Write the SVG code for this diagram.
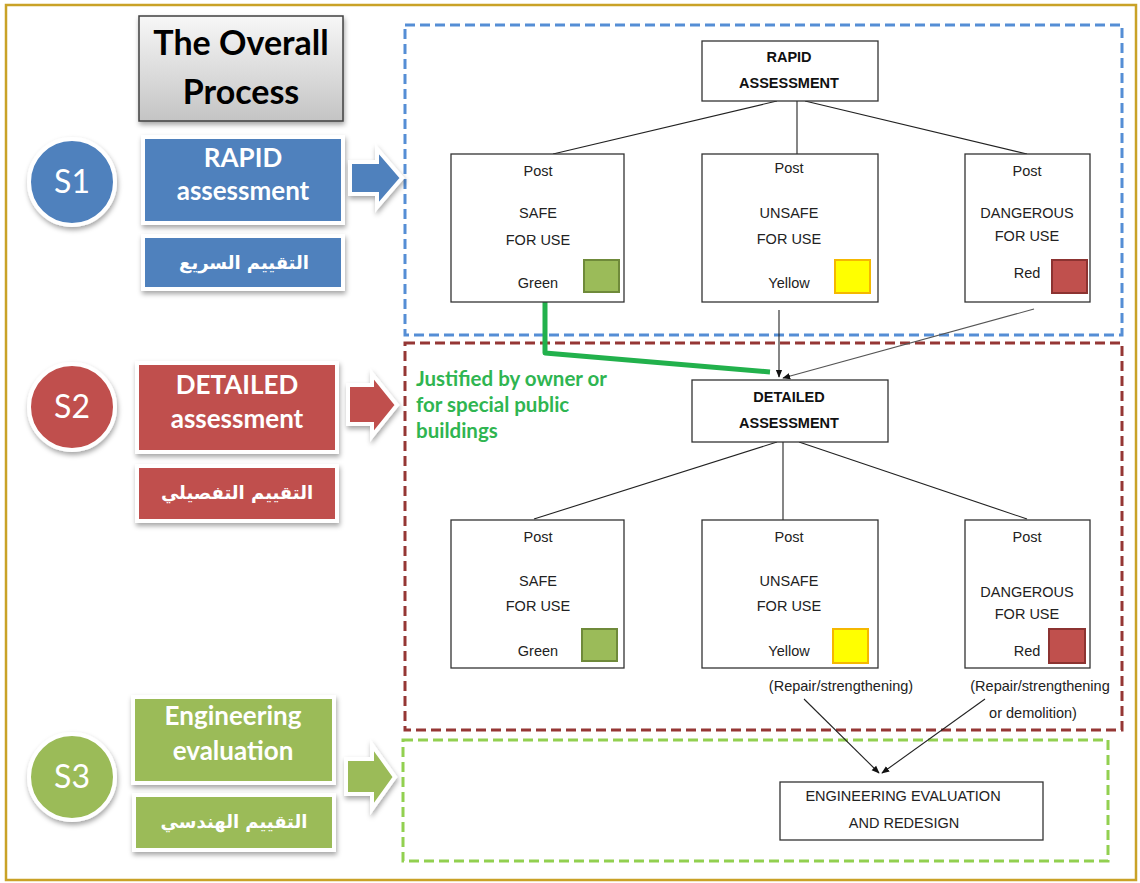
<svg xmlns="http://www.w3.org/2000/svg" width="1140" height="883" viewBox="0 0 1140 883">
<defs>
  <linearGradient id="gTitle" x1="0" y1="0" x2="0" y2="1">
    <stop offset="0" stop-color="#f7f7f7"/>
    <stop offset="1" stop-color="#c4c4c4"/>
  </linearGradient>
  <filter id="sh" x="-20%" y="-20%" width="140%" height="150%">
    <feDropShadow dx="1" dy="3" stdDeviation="2.5" flood-color="#000" flood-opacity="0.35"/>
  </filter>
  <marker id="ah" viewBox="0 0 10 10" refX="9" refY="5" markerWidth="8" markerHeight="8" markerUnits="userSpaceOnUse" orient="auto">
    <path d="M0,1 L10,5 L0,9 z" fill="#111"/>
  </marker>
  <style>
    .lbl{font-family:Lato,"Open Sans","Liberation Sans",sans-serif;font-weight:bold;fill:#fff;text-anchor:middle;font-size:26px}
    .ttl{font-family:Lato,"Open Sans","Liberation Sans",sans-serif;font-weight:bold;fill:#000;text-anchor:middle;font-size:34px}
    .ar{font-family:"DejaVu Sans",sans-serif;font-weight:bold;fill:#fff;text-anchor:middle;font-size:18px}
    .circ{font-family:Lato,"Open Sans","Liberation Sans",sans-serif;fill:#fff;text-anchor:middle;font-size:32px}
    .note{font-family:Lato,"Open Sans",sans-serif;font-weight:bold;font-size:20.5px;fill:#2fb551}
    .box{fill:#fff;stroke:#333;stroke-width:1.3}
    .t{font-family:"Liberation Sans",Arial,sans-serif;font-size:14.5px;fill:#222;text-anchor:middle}
    .tb{font-family:"Liberation Sans",Arial,sans-serif;font-size:14.5px;font-weight:bold;fill:#111;text-anchor:middle}
    .ln{stroke:#222;stroke-width:1.1;fill:none}
    .frame{stroke:#fff;stroke-width:4}
  </style>
</defs>
<rect x="0" y="0" width="1140" height="883" fill="#fff"/>
<rect x="6" y="5" width="1130" height="875" fill="#fff" stroke="#c9a227" stroke-width="2.5"/>

<!-- dashed stage frames -->
<rect x="405" y="25" width="717" height="310" fill="none" stroke="#558ed5" stroke-width="3" stroke-dasharray="10,5"/>
<rect x="405" y="343" width="717" height="387" fill="none" stroke="#953735" stroke-width="3" stroke-dasharray="10,5"/>
<rect x="403" y="740" width="705" height="121" fill="none" stroke="#92d050" stroke-width="3" stroke-dasharray="10,5"/>

<!-- title -->
<g id="title">
  <rect x="139" y="16" width="204" height="105" fill="url(#gTitle)" stroke="#404040" stroke-width="1.5" filter="url(#sh)"/>
  <text x="241" y="55" class="ttl">The Overall</text>
  <text x="241" y="104" class="ttl">Process</text>
</g>

<!-- S1 -->
<g id="s1">
  <circle cx="72" cy="182" r="43" fill="#4f81bd" class="frame" filter="url(#sh)"/>
  <text x="72" y="193" class="circ">S1</text>
</g>
<g id="s1-label">
  <rect x="143" y="137" width="200" height="86" fill="#4f81bd" class="frame" filter="url(#sh)"/>
  <text x="243" y="167" class="lbl">RAPID</text>
  <text x="243" y="200" class="lbl">assessment</text>
</g>
<g id="s1-ar">
  <rect x="143" y="236" width="200" height="53" fill="#4f81bd" class="frame" filter="url(#sh)"/>
  <text x="244" y="269" class="ar">التقييم السريع</text>
</g>
<g id="s1-arrow">
  <path d="M350,162 L377,162 L377,149 L402,178 L377,207 L377,194 L350,194 z" fill="#4f81bd" class="frame" filter="url(#sh)"/>
</g>

<!-- S2 -->
<g id="s2">
  <circle cx="72" cy="407" r="43" fill="#c0504d" class="frame" filter="url(#sh)"/>
  <text x="72" y="418" class="circ">S2</text>
</g>
<g id="s2-label">
  <rect x="137" y="363" width="200" height="89" fill="#c0504d" class="frame" filter="url(#sh)"/>
  <text x="237" y="394" class="lbl">DETAILED</text>
  <text x="237" y="428" class="lbl">assessment</text>
</g>
<g id="s2-ar">
  <rect x="137" y="466" width="200" height="55" fill="#c0504d" class="frame" filter="url(#sh)"/>
  <text x="237" y="499" class="ar">التقييم التفصيلي</text>
</g>
<g id="s2-arrow">
  <path d="M348,385 L372,385 L372,374 L397,405 L372,436 L372,424 L348,424 z" fill="#c0504d" class="frame" filter="url(#sh)"/>
</g>

<!-- S3 -->
<g id="s3">
  <circle cx="72" cy="777" r="43" fill="#9bbb59" class="frame" filter="url(#sh)"/>
  <text x="72" y="788" class="circ">S3</text>
</g>
<g id="s3-label">
  <rect x="133" y="697" width="201" height="86" fill="#9bbb59" class="frame" filter="url(#sh)"/>
  <text x="233" y="725" class="lbl">Engineering</text>
  <text x="233" y="760" class="lbl">evaluation</text>
</g>
<g id="s3-ar">
  <rect x="134" y="795" width="200" height="55" fill="#9bbb59" class="frame" filter="url(#sh)"/>
  <text x="234" y="828" class="ar">التقييم الهندسي</text>
</g>
<g id="s3-arrow">
  <path d="M346,759 L372,759 L372,745 L395,777 L372,809 L372,794 L346,794 z" fill="#9bbb59" class="frame" filter="url(#sh)"/>
</g>

<!-- connectors -->
<g id="connectors">
  <line class="ln" x1="777" y1="101" x2="553" y2="154"/>
  <line class="ln" x1="797" y1="101" x2="797" y2="154"/>
  <line class="ln" x1="805" y1="101" x2="1027" y2="154"/>
  <polyline points="545,302 545,353 770,372" fill="none" stroke="#22b14c" stroke-width="5" stroke-linejoin="round"/>
  <line class="ln" x1="779" y1="310" x2="779" y2="377" marker-end="url(#ah)"/>
  <line class="ln" x1="1034" y1="309" x2="783" y2="378" marker-end="url(#ah)" style="stroke:#555"/>
  <line class="ln" x1="777" y1="442" x2="534" y2="519"/>
  <line class="ln" x1="783" y1="442" x2="783" y2="520"/>
  <line class="ln" x1="799" y1="442" x2="1027" y2="519"/>
  <line class="ln" x1="804" y1="699" x2="879" y2="773" marker-end="url(#ah)"/>
  <line class="ln" x1="985" y1="699" x2="882" y2="773" marker-end="url(#ah)"/>
</g>

<!-- rapid assessment -->
<g id="rapid">
  <rect x="702" y="41" width="176" height="60" class="box"/>
  <text x="789" y="62" class="tb">RAPID</text>
  <text x="789" y="88" class="tb">ASSESSMENT</text>
</g>
<g id="r-safe">
  <rect x="451" y="154" width="173" height="148" class="box"/>
  <text x="538" y="176" class="t">Post</text>
  <text x="538" y="218" class="t">SAFE</text>
  <text x="538" y="245" class="t">FOR USE</text>
  <text x="538" y="288" class="t">Green</text>
  <rect x="584" y="260" width="35" height="32" fill="#9bbb59" stroke="#6f8a3a" stroke-width="2"/>
</g>
<g id="r-unsafe">
  <rect x="702" y="154" width="176" height="148" class="box"/>
  <text x="789" y="173" class="t">Post</text>
  <text x="789" y="218" class="t">UNSAFE</text>
  <text x="789" y="244" class="t">FOR USE</text>
  <text x="789" y="288" class="t">Yellow</text>
  <rect x="835" y="260" width="35" height="33" fill="#ffff00" stroke="#f5b800" stroke-width="2"/>
</g>
<g id="r-danger">
  <rect x="965" y="154" width="125" height="148" class="box"/>
  <text x="1027" y="176" class="t">Post</text>
  <text x="1027" y="218" class="t">DANGEROUS</text>
  <text x="1027" y="241" class="t">FOR USE</text>
  <text x="1027" y="278" class="t">Red</text>
  <rect x="1052" y="260" width="35" height="33" fill="#c0504d" stroke="#8c3331" stroke-width="2"/>
</g>

<!-- green note -->
<g id="note">
  <text x="416" y="386" class="note">Justified by owner or</text>
  <text x="416" y="412" class="note">for special public</text>
  <text x="416" y="438" class="note">buildings</text>
</g>

<!-- detailed assessment -->
<g id="detailed">
  <rect x="692" y="380" width="196" height="62" class="box"/>
  <text x="789" y="402" class="tb">DETAILED</text>
  <text x="789" y="428" class="tb">ASSESSMENT</text>
</g>
<g id="d-safe">
  <rect x="451" y="520" width="173" height="148" class="box"/>
  <text x="538" y="542" class="t">Post</text>
  <text x="538" y="586" class="t">SAFE</text>
  <text x="538" y="611" class="t">FOR USE</text>
  <text x="538" y="656" class="t">Green</text>
  <rect x="582" y="629" width="35" height="32" fill="#9bbb59" stroke="#6f8a3a" stroke-width="2"/>
</g>
<g id="d-unsafe">
  <rect x="702" y="520" width="176" height="148" class="box"/>
  <text x="789" y="542" class="t">Post</text>
  <text x="789" y="586" class="t">UNSAFE</text>
  <text x="789" y="611" class="t">FOR USE</text>
  <text x="789" y="656" class="t">Yellow</text>
  <rect x="833" y="629" width="35" height="34" fill="#ffff00" stroke="#f5b800" stroke-width="2"/>
</g>
<g id="d-danger">
  <rect x="965" y="520" width="125" height="148" class="box"/>
  <text x="1027" y="542" class="t">Post</text>
  <text x="1027" y="597" class="t">DANGEROUS</text>
  <text x="1027" y="619" class="t">FOR USE</text>
  <text x="1027" y="656" class="t">Red</text>
  <rect x="1049" y="629" width="36" height="34" fill="#c0504d" stroke="#8c3331" stroke-width="2"/>
</g>
<text x="841" y="691" class="t">(Repair/strengthening)</text>
<text x="1040" y="691" class="t">(Repair/strengthening</text>
<text x="1033" y="718" class="t">or demolition)</text>

<!-- engineering evaluation -->
<g id="engineering">
  <rect x="780" y="782" width="263" height="58" class="box"/>
  <text x="903" y="801" class="t">ENGINEERING EVALUATION</text>
  <text x="904" y="828" class="t">AND REDESIGN</text>
</g>
</svg>
